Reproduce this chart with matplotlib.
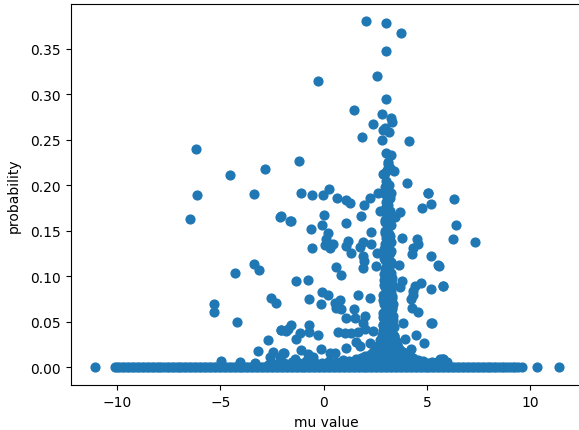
import matplotlib
matplotlib.use("Agg")
import matplotlib.pyplot as plt

# Upper, scattered points
upper_x = [2.04,3.0,3.75,3.04,2.59,-0.26,3.0,1.49,2.8,3.25,3.33,2.39,2.96,2.85,3.17,1.84,2.8,4.11,-1.21,3.0,3.25,3.12,3.12,3.2,3.4,3.05,2.95,2.85,4.05,5.06,0.24,-1.12,-0.57,-0.01,0.65,1.1,
 1.26,1.94,2.23,2.64,3.1,2.72,3.69,3.45,1.8,4.77,5.18,5.06,-1.57,-2.05,0.03,-0.06,-0.62,1.1,0.21,0.13,0.45,0.05,0.29,-0.57,1.18,1.1,1.34,1.91,2.27,2.31,1.75,1.91,1.94,1.91,2.59,2.52,0.58,0.84,3.8,4.5,4.58,4.3,4.26,5.21,5.57,3.64,3.77,3.69,4.72,4.42,4.3,4.34,4.22,5.21,5.79,4.26,4.55,5.21,4.45,4.85,4.21,3.85,3.93,3.37]
upper_y = [.381,.378,.367,.348,.320,.315,.295,.283,.278,.274,.270,.267,.263,.261,.259,.253,.250,.249,.227,.235,.233,.226,.223,.2195,.216,.217,.214,.212,.202,.192,.196,.191,.189,.189,.186,.184,
 .181,.178,.186,.192,.184,.1716,.171,.165,.166,.1755,.179,.191,.161,.166,.167,.156,.152,.159,.148,.1405,.135,.134,.1306,.131,.1386,.133,.126,.1376,.135,.1485,.1317,.122,.1167,.109,.126,.111,.110,.101,.1416,.1405,.1358,.1314,.124,.122,.1116,.112,.0947,.0885,.093,.0892,.0838,.079,.0754,.0864,.0892,.0655,.0607,.0483,.0351,.027,.0198,.0483,.0307,.07]

# Lower-middle scattered points
middle_x = [-1.33,-0.76,-0.71,-0.11,-0.06,0.21,0.78,0.53,0.62,0.83,1.64,2.23,1.46,1.1,1.5,1.99,1.91,0.69,1.02,1.34,1.67,1.99,2.39,1.55,1.1,1.75,2.23,-1.57,-2.05,-1.81,-0.71,-0.71,-0.28,-1.13,-1.33,-1.08,-0.11,0.29,0.53,-0.76,-1.94,-1.41,-0.52,5.78,5.5,4.75]
middle_y = [.095,.096,.0746,.07,.0827,.0798,.0739,.071,.0648,.0637,.08,.0757,.0637,.0545,.0545,.0563,.049,.0387,.038,.038,.0387,.0417,.04,.0278,.0209,.0234,.027,.046,.041,.04,.046,.0387,.0351,.0373,.0307,.019,.0198,.0161,.0161,.0143,.0161,.0088,.011,.0088,.006,.005]

# Left and right wings
wing_x = [-6.19,-4.55,-2.84,-6.14,-3.39,-6.45,-2.1,-1.63,-3.36,-3.14,-4.31,-5.31,-5.31,-2.53,-2.32,-4.19,-2.08,-1.73,-2.69,-3.2,-2.44,-1.95,-2.6,-2.11,-4.95,-4.05,-3.32,6.3,6.4,6.25,7.3,5.53,5.79,5.22,5.79,5.53,5.95,5.65]
wing_y = [.24,.2108,.2184,.189,.1902,.1632,.1654,.1606,.113,.1072,.1039,.0699,.0607,.0757,.0702,.0497,.0406,.0417,.0304,.0179,.0168,.0161,.011,.011,.0069,.0055,.0044,.1844,.1562,.1413,.138,.112,.0892,.0483,.0088,.0055,.006,.0095]

# Dense central column
column_x = [3.0,3.15,3.05,2.95,3.2,3.0,3.1,2.97,3.2,3.05,2.98,3.22,3.1,2.95,3.18,3.0,3.25,3.05,2.92,3.2,3.1,2.95,3.28,3.0,3.15,2.9,3.3,3.05,2.9,3.2,3.0,3.3,2.88,3.12,3.32,2.95,3.2,2.85,3.35,3.05,2.85,3.3,3.1,2.9,3.4,3.0,2.8,3.35,3.15,2.75,3.45,3.0,2.7,3.5,3.2,2.6,3.6,2.9,2.5,3.7,3.1,2.4,3.8,2.8,2.3,3.9,3.3,2.1,4.0,2.6,1.9,4.1,3.5,1.7,4.3,2.4,1.5,4.5,3.0,1.3,4.7,2.2,1.1,4.9,3.6,0.9,0.6,0.2,-0.3,5.1,5.4]
column_y = [.205,.2,.195,.19,.186,.182,.178,.174,.17,.166,.162,.158,.154,.15,.146,.142,.138,.134,.13,.126,.122,.118,.114,.11,.106,.102,.098,.094,.09,.086,.082,.078,.074,.07,.066,.062,.058,.055,.052,.049,.046,.043,.04,.037,.034,.032,.03,.028,.026,.024,.023,.022,.021,.02,.018,.017,.016,.015,.014,.013,.012,.012,.011,.011,.01,.01,.009,.009,.008,.008,.008,.007,.007,.007,.006,.006,.006,.006,.005,.005,.005,.005,.005,.004,.004,.004,.004,.004,.004,.004,.004]

# Second pass over the column, which fills its width
column2_x = [2.95,3.25,3.0,3.2,2.95,3.25,2.98,3.22,2.95,3.25,2.93,3.28,2.95,3.25,2.9,3.3,2.95,3.25,2.88,3.3,2.92,3.3,2.85,3.35,2.9,3.3,2.85,3.38,2.88,3.3,2.8,3.42,2.85,3.35,2.75,3.5,2.8,3.4,2.7,3.55,2.65,3.6,2.6,3.5,2.5,3.7,2.7,3.6,2.4,3.85,2.55,3.75,2.3,3.95,2.45,4.05,2.15,4.2,2.0,3.9,2.3,4.0,1.85,4.3,2.1,4.15]
column2_y = [.198,.192,.176,.172,.16,.156,.148,.144,.136,.128,.12,.116,.108,.104,.096,.092,.088,.084,.08,.076,.07,.064,.06,.056,.053,.05,.047,.044,.041,.038,.036,.034,.033,.031,.03,.029,.027,.026,.025,.024,.023,.022,.021,.02,.019,.019,.018,.018,.017,.017,.016,.016,.015,.015,.014,.014,.013,.013,.012,.012,.011,.011,.01,.01,.009,.009]

# Low bumps along the top of the baseline
bump_x = [-1.9,-1.55,-1.2,-0.85,-0.45,-0.1,0.25,0.6,0.95,1.25,1.55,1.8,4.55,4.8,5.05,5.25,-2.3,-2.7]
bump_y = [.005,.006,.005,.007,.006,.005,.007,.006,.008,.007,.009,.01,.008,.007,.005,.006,.004,.003]

# Baseline, probability about zero
base_x = [-11.08,-10.1,-10.0,-9.88,-9.76,-9.65,-9.52,-9.41,-9.28,-9.16,-9.05,-8.92,-8.8,-8.69,-8.55,-8.44,-8.32,-8.2,-8.08,-7.96,-7.85,-7.72,-7.6,-7.48,-7.36,-7.25,-7.12,-7.0,-6.88,-6.76,-6.64,-6.52,-6.4,-6.28,-6.16,-6.04,-5.92,-5.8,-5.68,-5.56,-5.44,-5.32,-5.2,-5.08,-4.96,-4.84,-4.72,-4.6,-4.48,-4.36,-4.24,-4.12,-4.0,-3.88,-3.76,-3.64,-3.52,-3.4,-3.28,-3.16,-3.04,-2.92,-2.8,-2.68,-2.56,-2.44,-2.32,-2.2,-2.08,-1.96,-1.84,-1.72,-1.6,-1.48,-1.36,-1.24,-1.12,-1.0,-0.88,-0.76,-0.64,-0.52,-0.4,-0.28,-0.16,-0.04,0.08,0.2,0.32,0.44,0.56,0.68,0.8,0.92,1.04,1.16,1.28,1.4,1.52,1.64,1.76,1.88,2.0,2.12,2.24,2.36,2.48,2.6,2.72,2.84,2.96,3.08,3.2,3.32,3.44,3.56,3.68,3.8,3.92,4.04,4.16,4.28,4.4,4.52,4.64,4.76,4.88,5.0,5.12,5.24,5.36,5.48,5.6,5.72,5.84,5.96,6.08,6.2,6.32,6.44,6.56,6.68,6.8,6.92,7.04,7.16,7.28,7.4,7.52,7.64,7.76,7.88,8.0,8.12,8.24,8.36,8.48,8.62,8.74,8.88,9.0,9.14,9.26,9.42,9.58,10.33,11.37]
base_y = [0.0] * len(base_x)

x_label = "mu value"
y_label = "probability"
x_ticks = [-10, -5, 0, 5, 10]
y_ticks = [0.00, 0.05, 0.10, 0.15, 0.20, 0.25, 0.30, 0.35]

W, H = 579, 431
fig = plt.figure(figsize=(W / 100, H / 100), dpi=100)
L, R, T, B = 70.7, 582.0, 4.7, 386.0
ax = fig.add_axes([L / W, (H - B) / H, (R - L) / W, (B - T) / H])
xs = upper_x + middle_x + wing_x + column_x + column2_x + bump_x + base_x
ys = upper_y + middle_y + wing_y + column_y + column2_y + bump_y + base_y
ax.scatter(xs, ys, s=40, color="#1f77b4")
ax.set_xlim(-12.24, 12.5)
ax.set_ylim(-0.0194, 0.3995)
ax.set_xticks(x_ticks)
ax.set_yticks(y_ticks)
ax.set_yticklabels([f"{v:.2f}" for v in y_ticks])
ax.set_xlabel(x_label, labelpad=4.5)
ax.set_ylabel(y_label, labelpad=6.5)
fig.savefig("out.png", dpi=100)
